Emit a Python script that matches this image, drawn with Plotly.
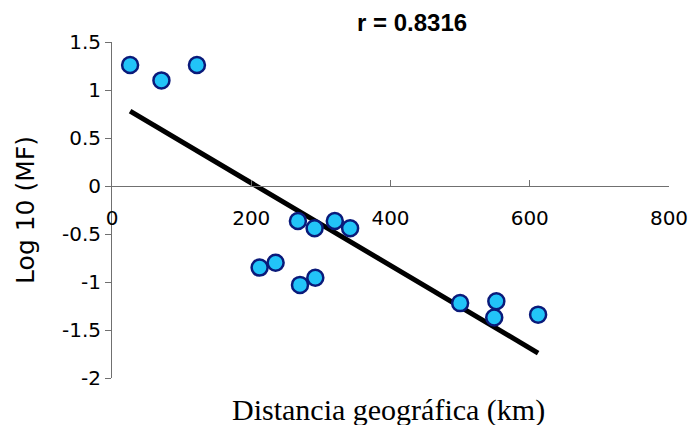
import plotly.graph_objects as go

# Data
distance_km = [26, 71, 122, 212, 235, 267, 270, 291, 292, 320, 342, 500, 549, 552, 612]
log10_mf = [1.26, 1.10, 1.26, -0.85, -0.80, -0.365, -1.03, -0.44, -0.955, -0.365, -0.44, -1.22, -1.37, -1.20, -1.34]

trend_x = [26, 612]
trend_y = [0.78, -1.74]

x_ticks = [0, 200, 400, 600, 800]
y_ticks = [-2, -1.5, -1, -0.5, 0, 0.5, 1, 1.5]
y_tick_text = ["-2", "-1.5", "-1", "-0.5", "0", "0.5", "1", "1.5"]

title_text = "r = 0.8316"
x_title = "Distancia geográfica (km)"
y_title = "Log 10 (MF)"

fig = go.Figure()
fig.add_trace(go.Scatter(
    x=trend_x, y=trend_y, mode="lines",
    line=dict(color="black", width=5), showlegend=False, hoverinfo="skip"))
fig.add_trace(go.Scatter(
    x=distance_km, y=log10_mf, mode="markers",
    marker=dict(size=16, color="#22C4F8", line=dict(color="#0A1A7A", width=2.5)),
    showlegend=False))

y_min, y_max = -2, 1.5
L, R, T, B = 112, 22, 42, 47
W, H = 691, 425
pw, ph = W - L - R, H - T - B

fig.update_layout(
    width=W, height=H,
    margin=dict(l=L, r=R, t=T, b=B),
    paper_bgcolor="white", plot_bgcolor="white",
    font=dict(family="DejaVu Sans", color="black"),
    xaxis=dict(
        range=[0, 800], tickvals=x_ticks, showgrid=False, zeroline=False,
        showline=True, linecolor="#707070", linewidth=1,
        ticks="inside", ticklen=6, tickcolor="#707070",
        anchor="free", position=(0 - y_min) / (y_max - y_min),
        tickfont=dict(family="DejaVu Sans", size=20, color="black"),
        ticklabelstandoff=14, automargin=False,
    ),
    yaxis=dict(
        range=[y_min, y_max], tickvals=y_ticks, ticktext=y_tick_text,
        showgrid=False, zeroline=False,
        showline=True, linecolor="#707070", linewidth=1,
        ticks="outside", ticklen=6, tickcolor="#707070",
        tickfont=dict(family="DejaVu Sans", size=20, color="black"),
        title=dict(text=y_title, font=dict(family="DejaVu Sans", size=25, color="black"), standoff=20),
        automargin=False,
    ),
)
fig.add_annotation(text=title_text, xref="paper", yref="paper",
                   x=(412 - L) / pw, y=1 + (T - 23) / ph,
                   xanchor="center", yanchor="middle", showarrow=False,
                   font=dict(family="Liberation Sans", size=24, color="black", weight="bold"))
fig.add_annotation(text=x_title, xref="paper", yref="paper",
                   x=(388 - L) / pw, y=-(410 - (H - B)) / ph,
                   xanchor="center", yanchor="middle", showarrow=False,
                   font=dict(family="Liberation Serif", size=30, color="black"))

fig.write_html("out.html")
